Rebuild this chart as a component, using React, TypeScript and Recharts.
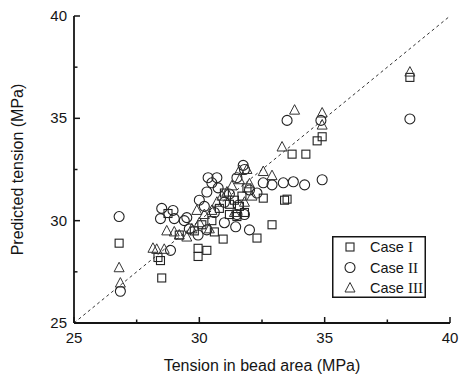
import React from 'react';
import { ScatterChart, Scatter, XAxis, YAxis, ReferenceLine, Legend } from 'recharts';

// [tension in bead area, predicted tension] in MPa
const caseI: [number, number][] = [
  [26.8, 28.9], [28.35, 28.2], [28.45, 28.05], [28.5, 27.2], [28.75, 30.35], [29.2, 29.3],
  [29.95, 28.65], [30.3, 28.55], [29.95, 28.25], [30.6, 29.45], [30.95, 29.1], [30.5, 30.0],
  [30.8, 30.6], [31.0, 31.35], [31.2, 30.8], [31.4, 31.0], [31.6, 30.7], [31.7, 31.2],
  [31.8, 30.4], [31.5, 30.2], [31.2, 30.3], [32.3, 29.15], [32.55, 31.1], [32.9, 29.8],
  [33.4, 31.0], [33.5, 31.05], [33.7, 33.25], [34.25, 33.25], [34.7, 33.9], [34.9, 34.1],
  [38.4, 37.0], [30.1, 29.8], [29.8, 29.5], [31.9, 31.6],
];

const caseII: [number, number][] = [
  [26.8, 30.2], [26.85, 26.55], [28.5, 30.6], [28.95, 30.5], [28.45, 30.1], [29.0, 30.1],
  [29.5, 30.15], [28.85, 28.55], [29.4, 30.0], [29.95, 29.3], [30.3, 29.55], [30.0, 31.0],
  [30.3, 31.4], [30.35, 32.1], [30.7, 32.1], [30.5, 31.85], [30.75, 31.6], [30.2, 30.7],
  [30.6, 30.4], [31.0, 30.9], [31.5, 32.1], [31.75, 32.7], [31.8, 32.5], [31.55, 30.75],
  [31.5, 30.3], [31.45, 29.7], [31.8, 30.3], [32.0, 29.55], [32.3, 31.35], [32.0, 31.5],
  [32.55, 31.85], [32.9, 31.75], [33.35, 31.85], [33.75, 31.9], [34.2, 31.75], [34.9, 32.0],
  [33.5, 34.9], [34.85, 34.9], [38.4, 34.97], [29.6, 29.6], [31.2, 31.3], [31.0, 29.9],
];

const caseIII: [number, number][] = [
  [26.8, 27.7], [26.85, 26.95], [28.15, 28.65], [28.3, 28.6], [28.6, 28.6], [28.7, 29.5],
  [29.0, 29.45], [29.2, 29.3], [29.5, 29.2], [29.7, 29.6], [30.0, 29.9], [30.2, 30.3],
  [30.5, 30.5], [30.7, 30.9], [30.9, 31.2], [31.1, 31.4], [31.3, 31.7], [31.6, 32.45],
  [31.6, 32.0], [31.9, 32.5], [32.0, 31.8], [32.1, 31.2], [31.8, 30.9], [32.55, 32.4],
  [32.9, 32.2], [33.3, 33.6], [33.8, 35.4], [34.9, 35.26], [34.9, 34.67], [38.4, 37.26],
  [30.4, 29.6], [29.9, 30.5], [31.4, 30.4],
];

const axisTicks = [25, 27.5, 30, 32.5, 35, 37.5, 40];
const axisDomain: [number, number] = [25, 40];
const seriesNames = ['Case ', 'Case ', 'Case '];
const romanNumerals = ['I', 'II', 'III'];
const xTitle = 'Tension in bead area (MPa)';
const yTitle = 'Predicted tension (MPa)';

const toPoints = (arr: [number, number][]) => arr.map(([x, y]) => ({ x, y }));

const INK = '#151515';
const SANS = '"Liberation Sans", Arial, sans-serif';
const SERIF = '"Liberation Serif", "Times New Roman", serif';

const Square = (p: any) => (
  <rect x={p.cx - 4} y={p.cy - 4} width={8} height={8} fill="none" stroke="#222" strokeWidth={1.1} />
);
const Circle = (p: any) => (
  <circle cx={p.cx} cy={p.cy} r={5} fill="none" stroke="#222" strokeWidth={1.1} />
);
const Triangle = (p: any) => (
  <polygon
    points={`${p.cx},${p.cy - 5.5} ${p.cx - 5},${p.cy + 4} ${p.cx + 5},${p.cy + 4}`}
    fill="none"
    stroke="#333"
    strokeWidth={1}
  />
);

const XTick = (p: any) => {
  const v = p.payload.value;
  const major = v % 5 === 0;
  return (
    <g>
      <line x1={p.x} x2={p.x} y1={p.y} y2={p.y - (major ? 6 : 3.5)} stroke={INK} strokeWidth={1.5} />
      {major && (
        <text x={p.x} y={p.y + 20} textAnchor="middle" fontSize={15} fontFamily={SANS} fill={INK}>
          {v}
        </text>
      )}
    </g>
  );
};

const YTick = (p: any) => {
  const v = p.payload.value;
  const major = v % 5 === 0;
  return (
    <g>
      <line x1={p.x} x2={p.x + (major ? 6 : 3.5)} y1={p.y} y2={p.y} stroke={INK} strokeWidth={1.5} />
      {major && (
        <text x={p.x - 7} y={p.y + 5} textAnchor="end" fontSize={15} fontFamily={SANS} fill={INK}>
          {v}
        </text>
      )}
    </g>
  );
};

const XLabel = (p: any) => {
  const vb = p.viewBox || {};
  return (
    <text x={vb.x + vb.width / 2} y={371} textAnchor="middle" fontSize={16} fontFamily={SANS} fill={INK}>
      {xTitle}
    </text>
  );
};

const YLabel = (p: any) => {
  const vb = p.viewBox || {};
  const cy = vb.y + vb.height / 2;
  return (
    <text
      x={17}
      y={cy}
      transform={`rotate(-90, 17, ${cy})`}
      textAnchor="middle"
      dominantBaseline="central"
      fontSize={16}
      fontFamily={SANS}
      fill={INK}
    >
      {yTitle}
    </text>
  );
};

const markers = [
  (cx: number, cy: number) => <Square cx={cx} cy={cy} />,
  (cx: number, cy: number) => <Circle cx={cx} cy={cy} />,
  (cx: number, cy: number) => <Triangle cx={cx} cy={cy} />,
];

const LegendBox = () => (
  <svg width={94} height={62} style={{ display: 'block', overflow: 'visible' }}>
    <rect x={0.75} y={0.75} width={92.5} height={60.5} fill="#fff" stroke={INK} strokeWidth={1.5} />
    {seriesNames.map((name, i) => {
      const cy = 11 + i * 20.5;
      return (
        <g key={i}>
          {markers[i](18, cy)}
          <text x={38} y={cy + 5} fontSize={14.5} fontFamily={SANS} fill={INK}>
            {name}
            <tspan fontFamily={SERIF} fontSize={15}>{romanNumerals[i]}</tspan>
          </text>
        </g>
      );
    })}
  </svg>
);

export default function App() {
  return (
    <div style={{ position: 'absolute', left: 0, top: 0, width: 467, height: 379, background: '#fff' }}>
      <ScatterChart width={467} height={379} margin={{ top: 16, right: 17, bottom: 0, left: 0 }}>
        <XAxis
          type="number"
          dataKey="x"
          domain={axisDomain}
          ticks={axisTicks}
          allowDataOverflow
          height={56}
          tickSize={0}
          tickMargin={0}
          tickLine={false}
          tick={<XTick />}
          axisLine={{ stroke: INK, strokeWidth: 1.8 }}
          label={<XLabel />}
        />
        <XAxis
          xAxisId="top"
          orientation="top"
          type="number"
          domain={axisDomain}
          height={0}
          tick={false}
          tickLine={false}
          axisLine={{ stroke: INK, strokeWidth: 1.5 }}
        />
        <YAxis
          type="number"
          dataKey="y"
          domain={axisDomain}
          ticks={axisTicks}
          allowDataOverflow
          width={74}
          tickSize={0}
          tickMargin={0}
          tickLine={false}
          tick={<YTick />}
          axisLine={{ stroke: INK, strokeWidth: 1.8 }}
          label={<YLabel />}
        />
        <YAxis
          yAxisId="right"
          orientation="right"
          type="number"
          domain={axisDomain}
          width={0}
          tick={false}
          tickLine={false}
          axisLine={{ stroke: INK, strokeWidth: 1.5 }}
        />
        <ReferenceLine
          segment={[{ x: 25, y: 25 }, { x: 40, y: 40 }]}
          stroke="#333"
          strokeWidth={1}
          strokeDasharray="3 3"
          ifOverflow="visible"
        />
        <Scatter name="Case I" data={toPoints(caseI)} shape={<Square />} isAnimationActive={false} />
        <Scatter name="Case II" data={toPoints(caseII)} shape={<Circle />} isAnimationActive={false} />
        <Scatter name="Case III" data={toPoints(caseIII)} shape={<Triangle />} isAnimationActive={false} />
        <Legend
          layout="vertical"
          align="center"
          verticalAlign="middle"
          content={<LegendBox />}
          wrapperStyle={{ left: 332, top: 236, width: 94, height: 62 }}
        />
      </ScatterChart>
    </div>
  );
}
